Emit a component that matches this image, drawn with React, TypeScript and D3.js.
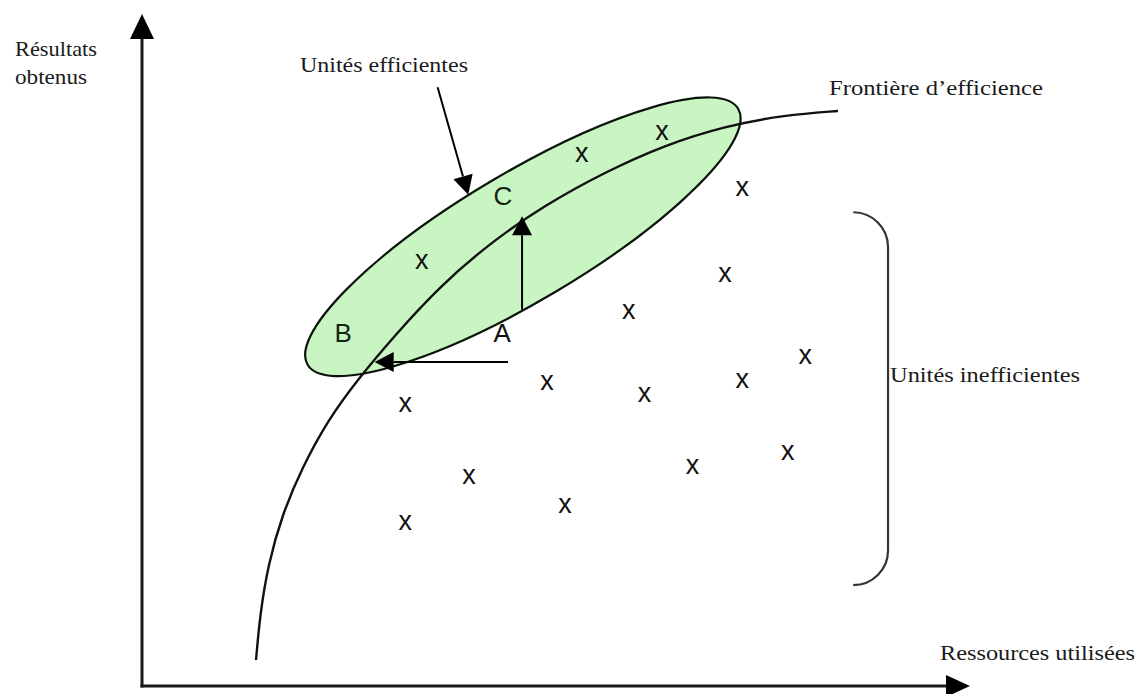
import React from "react";
import * as d3 from "d3";

const W = 1141;
const H = 694;

// Data units: x = resources used (0..100), y = results obtained (0..100)
const unitX = [62.8, 53.1, 72.5, 33.8, 70.4, 58.8, 80.1, 48.9, 72.5, 60.7, 31.8, 78.0, 66.5, 39.5, 51.1, 31.8];
const unitY = [82.4, 79.0, 74.0, 63.1, 61.2, 55.7, 49.0, 45.1, 45.4, 43.3, 41.8, 34.7, 32.6, 31.1, 26.9, 24.3];

const frontierX = [13.77, 14.25, 15.22, 16.91, 19.32, 22.46, 26.09, 30.56, 35.99, 42.03, 48.67, 55.92, 63.16, 70.41, 77.66, 84.06];
const frontierY = [3.87, 10.57, 18.01, 25.45, 32.44, 39.58, 45.68, 52.23, 59.52, 65.92, 71.58, 76.49, 80.51, 83.33, 84.97, 85.57];

// efficient-units ellipse: major axis end points
const ellipseEndsX = [20.0, 72.0];
const ellipseEndsY = [47.8, 85.9];

// projection arrows from A (to C vertically, to B horizontally) and callout arrow
const arrowFromX = [45.9, 44.2, 35.7];
const arrowFromY = [56.0, 48.2, 89.1];
const arrowToX = [45.9, 28.1, 39.4];
const arrowToY = [69.9, 48.2, 73.1];

const pointLabels = ["A", "B", "C"];
const pointLabelX = [43.5, 24.3, 43.6];
const pointLabelY = [51.2, 51.2, 71.6];

// bracket for inefficient units
const bracketX = [85.9, 90.1];
const bracketY = [70.5, 15.0];

const serif = '"Liberation Serif", "Times New Roman", serif';
const sans = '"Liberation Sans", Arial, sans-serif';

function arrowParts(x1: number, y1: number, x2: number, y2: number, len: number, half: number) {
  const dx = x2 - x1;
  const dy = y2 - y1;
  const d = Math.hypot(dx, dy);
  const ux = dx / d;
  const uy = dy / d;
  const bx = x2 - ux * len;
  const by = y2 - uy * len;
  const px = -uy;
  const py = ux;
  const pts = `${x2},${y2} ${bx + px * half},${by + py * half} ${bx - px * half},${by - py * half}`;
  return { bx, by, pts };
}

export default function App() {
  const x = d3.scaleLinear().domain([0, 100]).range([142, 970]);
  const y = d3.scaleLinear().domain([0, 100]).range([686, 14]);

  const frontier = d3
    .line<number>()
    .x((_, i) => x(frontierX[i]))
    .y((_, i) => y(frontierY[i]))
    .curve(d3.curveBasis)(frontierX.map((v) => v)) as string;

  const e1 = [x(ellipseEndsX[0]), y(ellipseEndsY[0])];
  const e2 = [x(ellipseEndsX[1]), y(ellipseEndsY[1])];
  const ecx = (e1[0] + e2[0]) / 2;
  const ecy = (e1[1] + e2[1]) / 2;
  const erx = Math.hypot(e2[0] - e1[0], e2[1] - e1[1]) / 2;
  const eang = (Math.atan2(e2[1] - e1[1], e2[0] - e1[0]) * 180) / Math.PI;

  const axisY = arrowParts(x(0), y(0), x(0), y(100), 25, 12);
  const axisX = arrowParts(x(0), y(0), x(100), y(0), 24, 11);

  const bxL = x(bracketX[0]);
  const bxR = x(bracketX[1]);
  const byT = y(bracketY[0]);
  const byB = y(bracketY[1]);
  const r = bxR - bxL;
  const bracket = `M${bxL},${byT} A${r},${r} 0 0 1 ${bxR},${byT + r} L${bxR},${byB - r} A${r},${r} 0 0 1 ${bxL},${byB}`;

  return (
    <svg
      width={W}
      height={H}
      style={{ position: "absolute", left: 0, top: 0, background: "#fff" }}
    >
      <rect x={0} y={0} width={W} height={H} fill="#fff" />

      {/* axes */}
      <line x1={x(0)} y1={y(0) + 1.5} x2={axisY.bx} y2={axisY.by} stroke="#1a1a1a" strokeWidth={3} />
      <polygon points={axisY.pts} fill="#000" />
      <line x1={x(0) - 1.5} y1={y(0)} x2={axisX.bx} y2={axisX.by} stroke="#1a1a1a" strokeWidth={3} />
      <polygon points={axisX.pts} fill="#000" />

      {/* efficient units ellipse */}
      <ellipse
        cx={ecx}
        cy={ecy}
        rx={erx}
        ry={64}
        transform={`rotate(${eang}, ${ecx}, ${ecy})`}
        fill="#c9f5c3"
        stroke="#0a140a"
        strokeWidth={2.2}
      />

      {/* efficiency frontier */}
      <path d={frontier} fill="none" stroke="#111" strokeWidth={2.4} />

      {/* arrows */}
      {arrowFromX.map((_, i) => {
        const a = arrowParts(x(arrowFromX[i]), y(arrowFromY[i]), x(arrowToX[i]), y(arrowToY[i]), 19, 10);
        return (
          <g key={`ar${i}`}>
            <line
              x1={x(arrowFromX[i])}
              y1={y(arrowFromY[i])}
              x2={a.bx}
              y2={a.by}
              stroke="#000"
              strokeWidth={2}
            />
            <polygon points={a.pts} fill="#000" />
          </g>
        );
      })}

      {/* units */}
      {unitX.map((v, i) => (
        <text
          key={`u${i}`}
          x={x(v)}
          y={y(unitY[i])}
          dy="0.27em"
          textAnchor="middle"
          fontFamily={sans}
          fontSize={27}
          fill="#111"
        >
          x
        </text>
      ))}

      {/* point labels */}
      {pointLabels.map((t, i) => (
        <text
          key={`pl${i}`}
          x={x(pointLabelX[i])}
          y={y(pointLabelY[i])}
          textAnchor="middle"
          fontFamily={sans}
          fontSize={26}
          fill={i === 0 ? "#111" : "#142414"}
        >
          {t}
        </text>
      ))}

      {/* bracket */}
      <path d={bracket} fill="none" stroke="#333" strokeWidth={2.2} />

      {/* texts */}
      <g fontFamily={serif} fontSize={21} fill="#1a1a1a">
        <text x={15} y={56} textLength={82} lengthAdjust="spacingAndGlyphs">Résultats</text>
        <text x={15} y={84} textLength={72} lengthAdjust="spacingAndGlyphs">obtenus</text>
        <text x={300} y={72} textLength={168} lengthAdjust="spacingAndGlyphs">Unités efficientes</text>
        <text x={829} y={95} textLength={214} lengthAdjust="spacingAndGlyphs">Frontière d’efficience</text>
        <text x={890} y={382} textLength={190} lengthAdjust="spacingAndGlyphs">Unités inefficientes</text>
        <text x={940} y={660} textLength={195} lengthAdjust="spacingAndGlyphs">Ressources utilisées</text>
      </g>
    </svg>
  );
}
